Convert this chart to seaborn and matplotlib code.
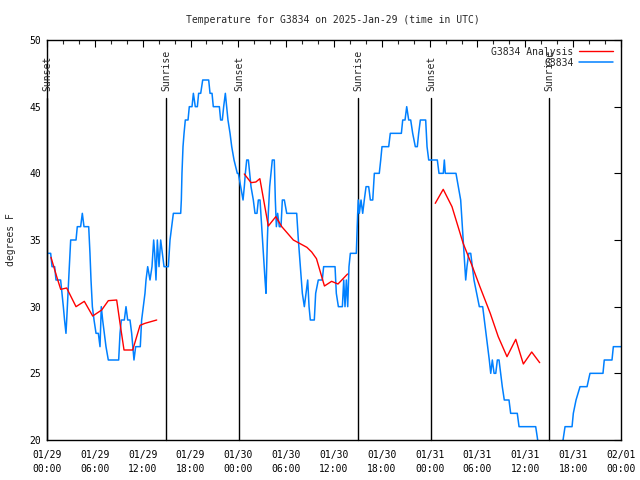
import numpy as np
import pandas as pd
import matplotlib
matplotlib.use("Agg")
import matplotlib.pyplot as plt
import seaborn as sns
from matplotlib.lines import Line2D

# ---------------- data ----------------
obs_hours = [0.04, 0.46, 0.63, 0.96, 1.13, 1.71, 1.88, 2.05, 2.2, 2.38, 2.47, 2.63, 2.8, 2.97,
             3.3, 3.64, 3.8, 4.05, 4.22, 4.43, 4.64, 5.23, 5.39, 5.52, 5.69, 5.9, 6.15, 6.44,
             6.65, 6.81, 6.98, 7.19, 7.4, 7.69, 8.99, 9.16, 9.32, 9.7, 9.91, 10.12, 10.41,
             10.62, 10.91, 11.12, 11.7, 11.87, 12.08, 12.29, 12.42, 12.63, 12.92, 13.17,
             13.38, 13.51, 13.67, 13.84, 14.05, 14.26, 14.47, 14.68, 15.22, 15.43, 15.64,
             15.85, 16.68, 16.77, 16.85, 16.93, 17.06, 17.19, 17.35, 17.69, 17.85, 18.19,
             18.36, 18.6, 18.86, 19.02, 19.28, 19.53, 20.28, 20.45, 20.7, 20.86, 21.62,
             21.78, 21.99, 22.16, 22.37, 22.54, 22.7, 22.96, 23.17, 23.46, 23.87, 24.0,
             24.3, 24.59, 24.75, 24.88, 25.05, 25.26, 25.43, 25.59, 25.88, 26.09, 26.34,
             26.51, 26.72, 26.93, 27.14, 27.35, 27.47, 27.64, 27.76, 27.93, 28.1, 28.26,
             28.51, 28.64, 28.77, 28.93, 29.14, 29.35, 29.52, 29.77, 30.07, 31.32, 31.53,
             31.78, 32.03, 32.28, 32.49, 32.7, 32.87, 33.03, 33.53, 33.7, 34.03, 34.53,
             34.7, 36.13, 36.29, 36.55, 37.05, 37.22, 37.38, 37.55, 37.72, 37.88, 38.05,
             38.8, 38.97, 39.05, 39.18, 39.39, 39.6, 39.8, 40.02, 40.35, 40.56, 40.86,
             41.06, 41.68, 41.86, 42.02, 42.86, 43.06, 44.45, 44.62, 44.91, 45.12, 45.37,
             45.62, 45.87, 46.2, 46.45, 46.62, 46.83, 47.5, 47.67, 47.88, 48.25, 48.96,
             49.17, 49.71, 49.84, 49.96, 51.3, 51.6, 51.89, 52.1, 52.31, 52.52, 52.68,
             52.9, 53.15, 53.35, 53.56, 53.9, 54.23, 54.65, 54.86, 55.07, 55.28, 55.48,
             55.66, 55.86, 56.08, 56.29, 56.49, 56.7, 56.91, 57.11, 57.36, 57.95, 58.16,
             58.99, 59.21, 61.3, 61.55, 62.0, 63.0, 64.0, 64.73, 64.98, 65.86, 66.02,
             66.36, 66.86, 67.74, 68.11, 69.74, 69.9, 70.87, 71.04, 72.0]
obs_temps = [34, 34, 33, 33, 32, 32, 31, 30, 29, 28, 29, 31, 33, 35,
             35, 35, 36, 36, 36, 37, 36, 36, 34, 32, 30, 29, 28, 28,
             27, 30, 29, 28, 27, 26, 26, 28, 29, 29, 30, 29, 29,
             28, 26, 27, 27, 29, 30, 31, 32, 33, 32, 33,
             35, 34, 32, 35, 33, 35, 34, 33, 33, 35, 36,
             37, 37, 37, 38, 40, 42, 43, 44, 44, 45, 45,
             46, 45, 45, 46, 46, 47, 47, 46, 46, 45, 45,
             44, 44, 45, 46, 45, 44, 43, 42, 41, 40, 40,
             39, 38, 39, 40, 41, 41, 40, 39, 38, 37, 37,
             38, 38, 36, 34, 32, 31, 35, 37, 39, 40, 41,
             41, 38, 36, 37, 36, 36, 38, 38, 37, 37, 35,
             33, 31, 30, 31, 32, 30, 29, 29, 31, 32, 32,
             33, 33, 31, 30, 30, 32, 30, 32, 30, 33, 34,
             34, 37, 38, 37, 38, 37, 38, 39, 39, 38, 38,
             40, 40, 41, 42, 42, 43, 43, 44, 44, 45, 44,
             44, 43, 42, 42, 43, 44, 44, 42, 41, 41, 41,
             40, 40, 41, 40, 40, 39, 38, 36, 34, 32, 33,
             34, 34, 33, 32, 31, 30, 30, 29, 28, 27, 26,
             25, 26, 25, 25, 26, 26, 25, 24, 23, 23, 22,
             22, 21, 21, 20, 19, 18, 19, 20, 21, 21, 22,
             23, 24, 24, 25, 25, 26, 26, 27, 27]

ana_hours = [0.5, 1.22, 1.72, 2.47, 3.64, 4.68, 5.73, 6.86, 7.69, 8.74, 9.16, 9.66, 10.75,
             11.67, 12.29, 13.76,
             24.75, 25.6, 26.2, 26.7, 27.76, 28.7, 29.45, 30.9, 32.6, 33.2, 33.8, 34.8,
             35.7, 36.5, 37.7,
             48.7, 49.7, 50.8, 52.2, 53.3, 54.3, 55.6, 56.6, 57.7, 58.8, 59.75, 60.8, 61.8]
ana_temps = [33.7, 32.25, 31.3, 31.4, 30.0, 30.4, 29.3, 29.75, 30.45, 30.5, 28.75, 26.75, 26.75,
             28.6, 28.75, 29.0,
             39.95, 39.3, 39.35, 39.6, 36.05, 36.75, 36.0, 35.0, 34.45, 34.1, 33.6, 31.55,
             31.9, 31.7, 32.45,
             37.75, 38.8, 37.5, 34.75, 33.1, 31.5, 29.5, 27.75, 26.25, 27.55, 25.7, 26.6, 25.8]
ana_segment = [0] * 16 + [1] * 15 + [2] * 13

sun_hours = [0.05, 14.93, 24.08, 39.01, 48.17, 62.97]
sun_labels = ["Sunset", "Sunrise", "Sunset", "Sunrise", "Sunset", "Sunrise"]

xtick_hours = [0, 6, 12, 18, 24, 30, 36, 42, 48, 54, 60, 66, 72]
xtick_labels = ["01/29\n00:00", "01/29\n06:00", "01/29\n12:00", "01/29\n18:00",
                "01/30\n00:00", "01/30\n06:00", "01/30\n12:00", "01/30\n18:00",
                "01/31\n00:00", "01/31\n06:00", "01/31\n12:00", "01/31\n18:00",
                "02/01\n00:00"]
ytick_values = [20, 25, 30, 35, 40, 45, 50]

title = "Temperature for G3834 on 2025-Jan-29 (time in UTC)"

# ---------------- plot ----------------
sns.set_style("white")
plt.rcParams["font.family"] = ["DejaVu Sans Mono", "DejaVu Sans"]
plt.rcParams["font.size"] = 7

fig = plt.figure(figsize=(6.4, 4.8), dpi=100)
ax = fig.add_axes([47 / 640, 40 / 480, (621 - 47) / 640, 400 / 480])

obs = pd.DataFrame({"hour": obs_hours, "temp": obs_temps})
ana = pd.DataFrame({"hour": ana_hours, "temp": ana_temps, "seg": ana_segment})

blue = "#0080ff"
red = "#ff0000"

sns.lineplot(data=ana, x="hour", y="temp", units="seg", estimator=None, sort=False,
             color=red, lw=1.0, ax=ax, legend=False, zorder=3)
sns.lineplot(data=obs, x="hour", y="temp", estimator=None, sort=False,
             color=blue, lw=1.1, ax=ax, legend=False, zorder=2)

for h, lab in zip(sun_hours, sun_labels):
    ax.plot([h, h], [0, 0.855], color="black", lw=1.0, transform=ax.get_xaxis_transform(),
            zorder=1, clip_on=False)
    ax.text(h, 0.872, lab, rotation=90, ha="center", va="bottom", fontsize=7,
            transform=ax.get_xaxis_transform())

ax.set_xlim(0, 72)
ax.set_ylim(20, 50)
ax.set_xticks(xtick_hours)
ax.set_xticklabels(xtick_labels, linespacing=1.55)
ax.set_xticks(np.arange(0, 73, 2), minor=True)
ax.set_yticks(ytick_values)
ax.set_yticklabels([str(v) for v in ytick_values])
ax.tick_params(axis="both", which="major", direction="in", length=5, width=0.8,
               top=True, right=True, labelsize=7, pad=4, colors="black")
ax.tick_params(axis="x", which="major", pad=7)
ax.tick_params(axis="x", which="minor", direction="in", length=3, width=0.8, top=True)
for s in ax.spines.values():
    s.set_color("black")
    s.set_linewidth(1.0)

ax.set_xlabel("")
ax.set_ylabel("degrees F", fontsize=7, labelpad=10)
fig.text(333 / 640, 1 - 20 / 480, title, ha="center", va="center", fontsize=7)

handles = [Line2D([], [], color=red, lw=1.0), Line2D([], [], color=blue, lw=1.1)]
ax.legend(handles, ["G3834 Analysis", "G3834"], loc="upper right", markerfirst=False,
          frameon=False, fontsize=7, handlelength=3.5, handletextpad=0.6,
          labelspacing=0.1, borderaxespad=0.1, bbox_to_anchor=(0.995, 0.995))

fig.savefig("out.png", dpi=100)
